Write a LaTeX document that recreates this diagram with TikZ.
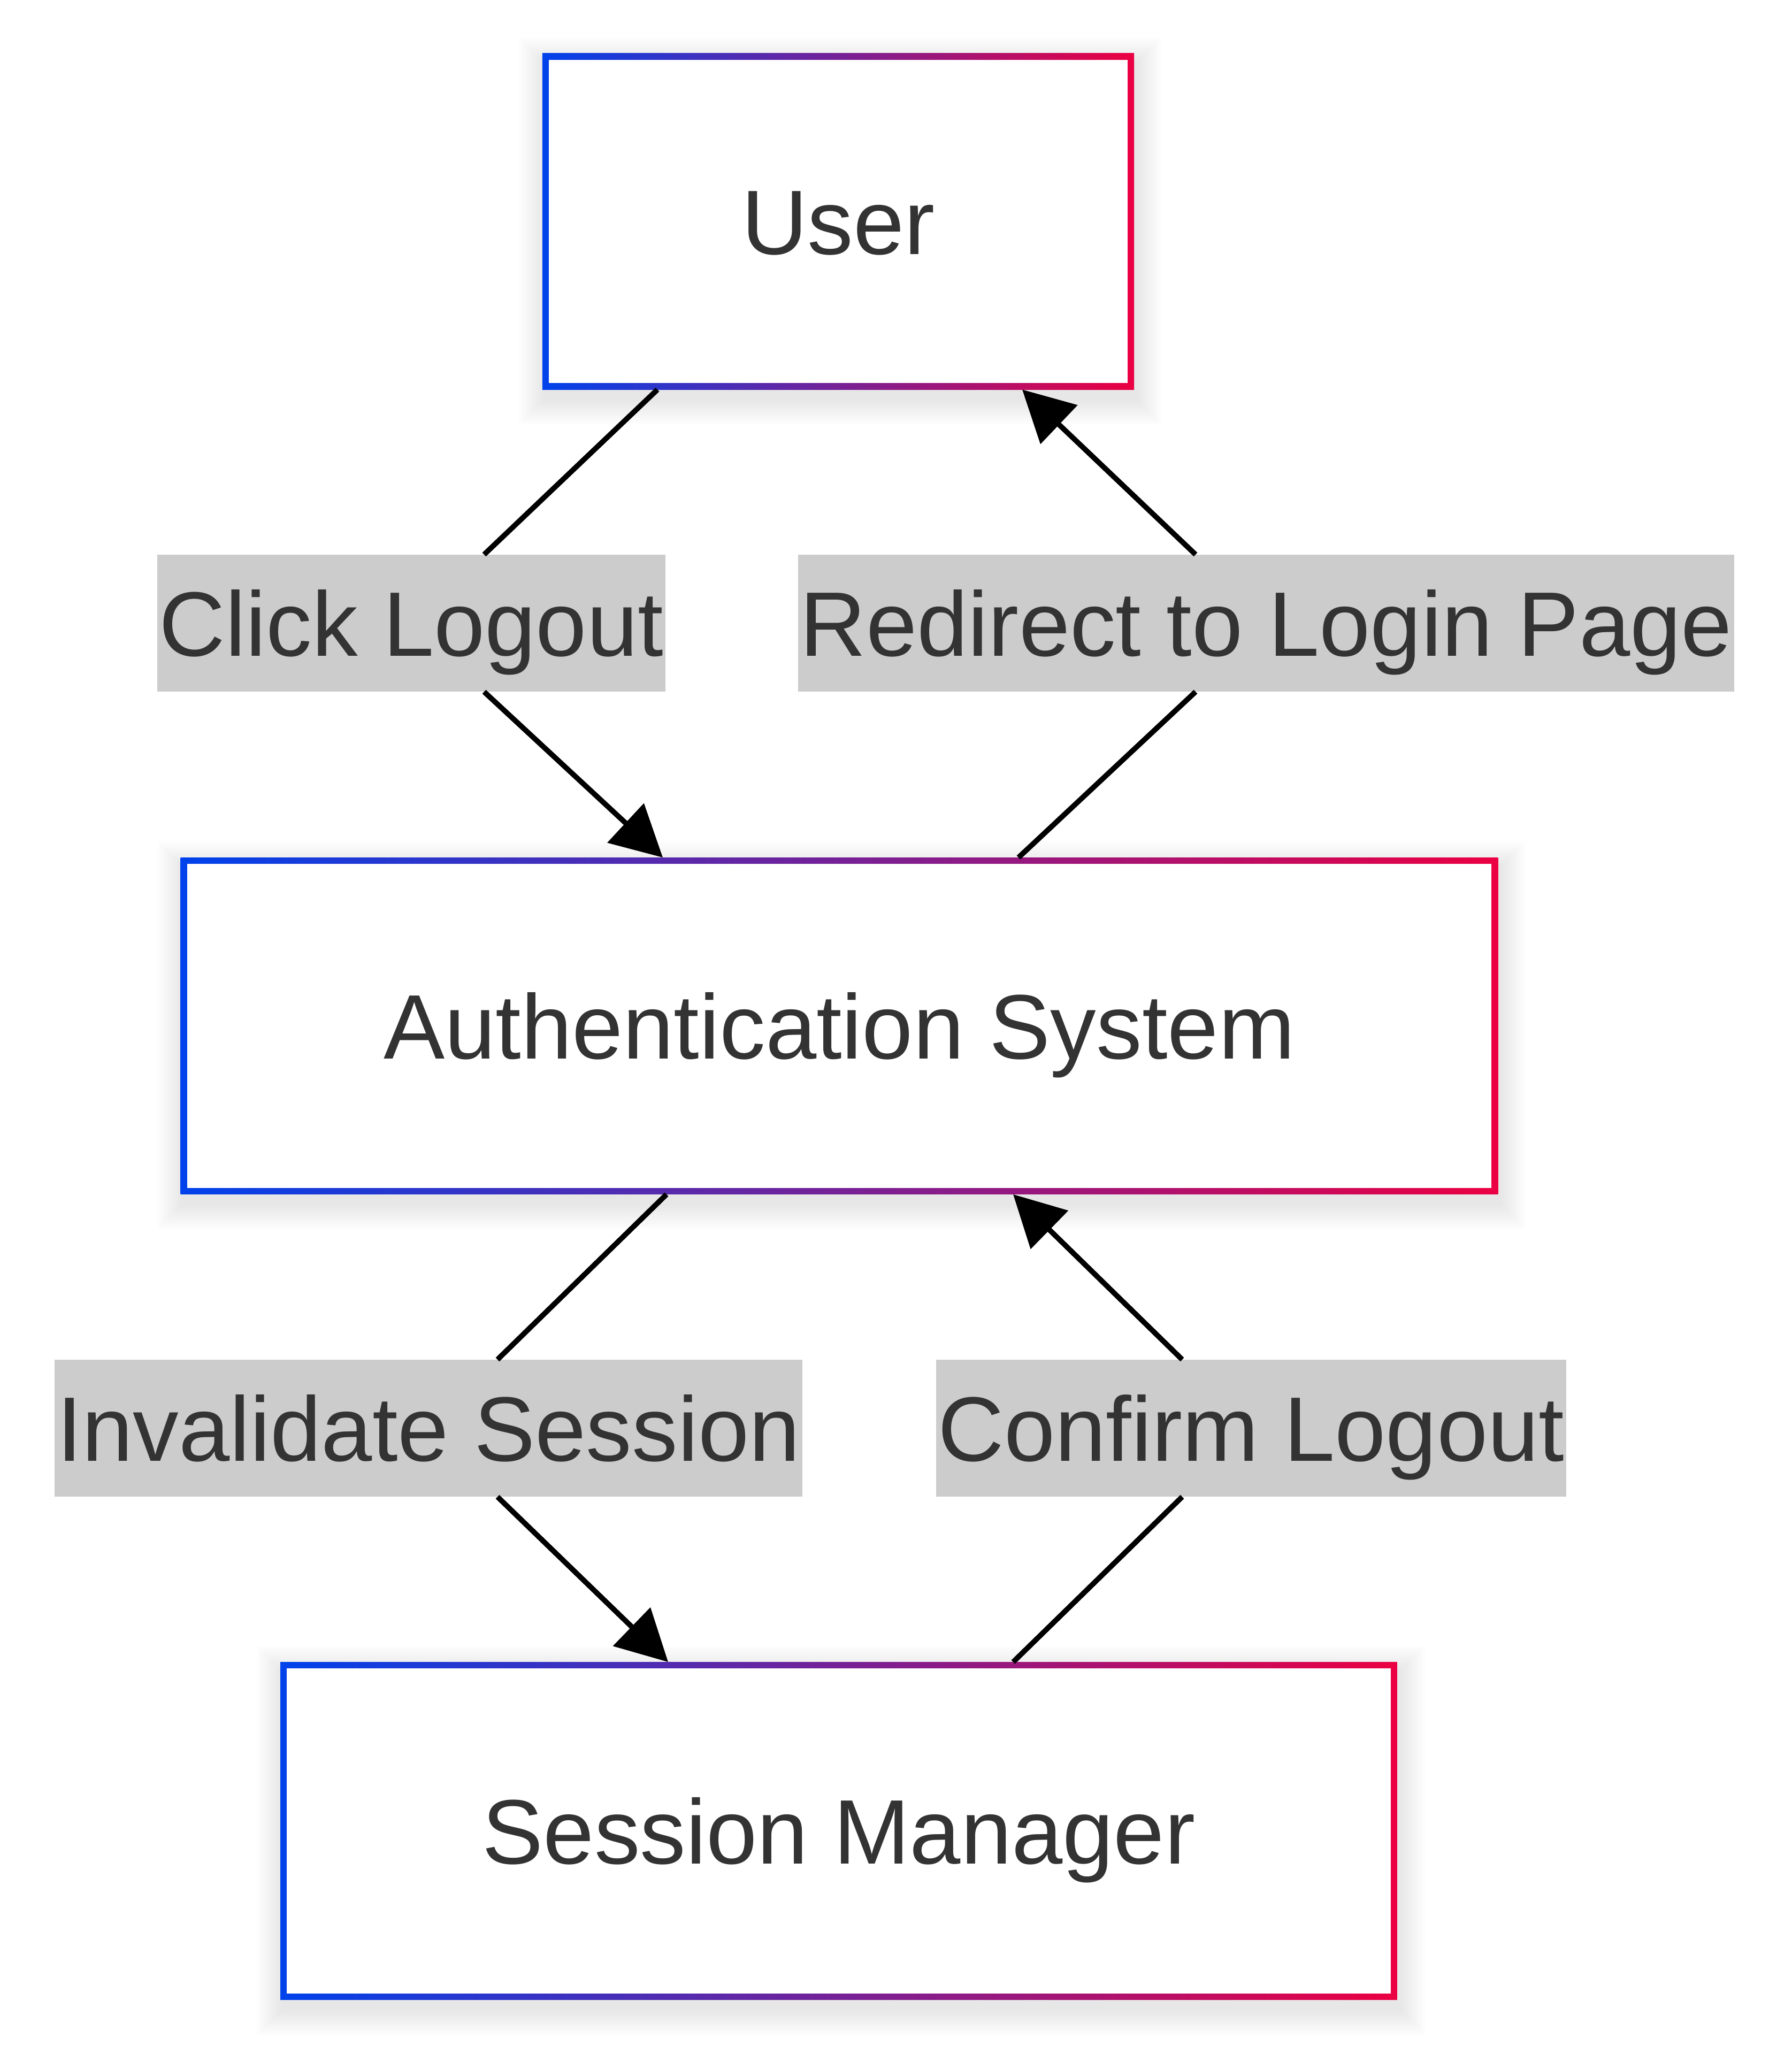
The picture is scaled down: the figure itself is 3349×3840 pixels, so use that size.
\documentclass[tikz,border=0pt]{standalone}
\usepackage{fontspec}
\setmainfont{Liberation Sans}
\usetikzlibrary{arrows.meta,calc,backgrounds}
\definecolor{gblue}{RGB}{0,66,235}
\definecolor{gred}{RGB}{235,0,66}
\definecolor{txt}{RGB}{51,51,51}
\definecolor{lblfill}{RGB}{204,204,204}
\newcommand{\gradframe}[1]{%
  \foreach \i in {1,...,12} {%
    \fill[black, opacity=0.008] ($(#1.north west)+(-\i*4+4,-\i*4+18)$) rectangle ($(#1.south east)+(\i*4+4,\i*4+18)$);
  }
  \shade[left color=gblue, right color=gred] (#1.north west) rectangle (#1.south east);
  \fill[white] ($(#1.north west)+(12,12)$) rectangle ($(#1.south east)+(-12,-12)$);
}
\begin{document}
\begin{tikzpicture}[x=0.01cm,y=-0.01cm,
  boxnode/.style={inner sep=0pt, text=txt, font=\fontsize{48.7}{58}\selectfont, text height=35pt, text depth=0pt},
  lbl/.style={fill=lblfill, text=txt, inner xsep=1pt, inner ysep=0pt, minimum height=2.55cm, font=\fontsize{48.7}{58}\selectfont, text height=35pt, text depth=0pt},
  conn/.style={line width=2.8pt, black, -{Triangle[length=27pt,width=28pt]}},
  plainline/.style={line width=2.8pt, black}]
\useasboundingbox (0,0) rectangle (3349,3840);

\node[boxnode, minimum width=11.04cm, minimum height=6.27cm] (user) at (1567,414) {User};
\node[boxnode, minimum width=24.60cm, minimum height=6.28cm] (auth) at (1569,1918) {Authentication System};
\node[boxnode, minimum width=20.85cm, minimum height=6.30cm] (sess) at (1568,3423) {Session Manager};

\node[lbl] (click) at (769,1165) {Click Logout};
\node[lbl] (redir) at (2367,1165) {Redirect to Login Page};
\node[lbl] (inval) at (801,2670) {Invalidate Session};
\node[lbl] (confirm) at (2339,2670) {Confirm Logout};

\begin{scope}[on background layer]
  \fill[white] (0,0) rectangle (3349,3840);
  \gradframe{user}
  \gradframe{auth}
  \gradframe{sess}
\end{scope}

% Click Logout
\coordinate (c1) at ($(user.south)+(-338,0)$);
\coordinate (c2) at ($(click.north)+(136,0)$);
\coordinate (c3) at ($(click.south)+(136,0)$);
\coordinate (c4) at ($(auth.north)+(-330,0)$);
\draw[plainline] (c1) -- (c2);
\draw[conn] (c3) -- (c4);

% Redirect
\coordinate (r1) at ($(auth.north)+(335,0)$);
\coordinate (r2) at ($(redir.south)+(-132,0)$);
\coordinate (r3) at ($(redir.north)+(-132,0)$);
\coordinate (r4) at ($(user.south)+(344,0)$);
\draw[plainline] (r1) -- (r2);
\draw[conn] (r3) -- (r4);

% Invalidate
\coordinate (i1) at ($(auth.south)+(-323,0)$);
\coordinate (i2) at ($(inval.north)+(129,0)$);
\coordinate (i3) at ($(inval.south)+(129,0)$);
\coordinate (i4) at ($(sess.north)+(-319,0)$);
\draw[plainline] (i1) -- (i2);
\draw[conn] (i3) -- (i4);

% Confirm
\coordinate (f1) at ($(sess.north)+(326,0)$);
\coordinate (f2) at ($(confirm.south)+(-129,0)$);
\coordinate (f3) at ($(confirm.north)+(-129,0)$);
\coordinate (f4) at ($(auth.south)+(325,0)$);
\draw[plainline] (f1) -- (f2);
\draw[conn] (f3) -- (f4);
\end{tikzpicture}
\end{document}
